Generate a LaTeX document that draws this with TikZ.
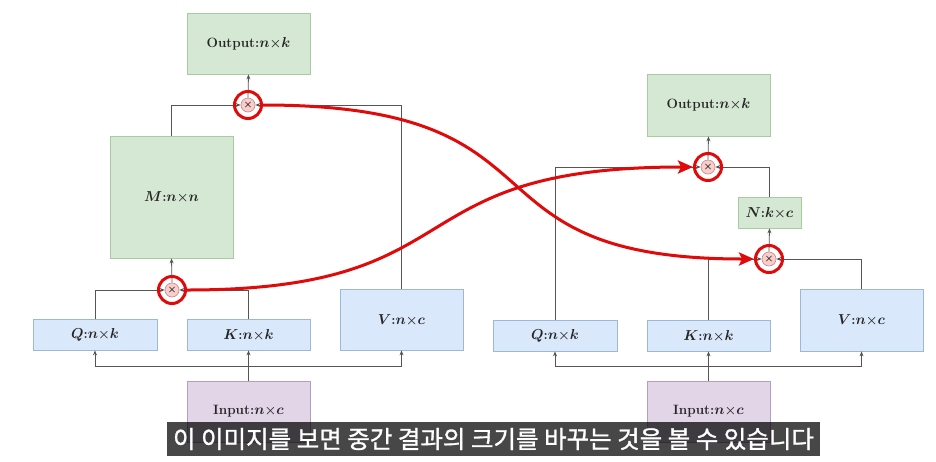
\documentclass[tikz,border=0pt]{standalone}
\usepackage{fontspec}
\usepackage{amsmath}
\usepackage{bm}
\newfontfamily\krfont[FakeBold=1.2]{Noto Sans CJK KR}
\usetikzlibrary{arrows.meta,calc}
\definecolor{gfill}{HTML}{D5E8D4}
\definecolor{gline}{HTML}{A9CBA0}
\definecolor{bfill}{HTML}{DAE8FC}
\definecolor{bline}{HTML}{9DB7DC}
\definecolor{pfill}{HTML}{E1D5E7}
\definecolor{pline}{HTML}{B49EC3}
\definecolor{mfill}{HTML}{F8CECC}
\definecolor{mline}{HTML}{C98683}
\definecolor{wire}{HTML}{555555}
\definecolor{hred}{HTML}{E00A0A}
\tikzset{
  lbl/.style={font=\fontsize{13.5}{15}\selectfont\bfseries,text=black!85},
  gbox/.style={lbl,draw=gline,fill=gfill,line width=0.8pt,inner sep=0pt},
  bbox/.style={lbl,draw=bline,fill=bfill,line width=0.8pt,inner sep=0pt},
  pbox/.style={lbl,draw=pline,fill=pfill,line width=0.8pt,inner sep=0pt},
  mulnode/.style={circle,draw=mline,fill=mfill,line width=0.6pt,minimum size=14pt,inner sep=0pt,font=\fontsize{10}{10}\selectfont\bfseries},
  ringnode/.style={circle,draw=hred,line width=3pt,minimum size=27pt,inner sep=0pt},
  wirearrow/.style={draw=wire,line width=0.8pt,-{Stealth[length=5pt,width=4pt]}},
  wireline/.style={draw=wire,line width=0.8pt},
  redarrow/.style={draw=hred,line width=3pt,-{Stealth[length=15pt,width=13pt,inset=3pt]}},
}
\begin{document}
\begin{tikzpicture}[x=1pt,y=-1pt]
\useasboundingbox (0,0) rectangle (936,461);
\fill[white] (0,0) rectangle (936,461);
% ---------- left diagram ----------
\node[gbox,minimum width=123pt,minimum height=61pt] (out1) at (248.5,43.5) {Output:$\bm{n}$×$\bm{k}$};
\node[gbox,minimum width=123pt,minimum height=122pt] (M) at (171.5,197) {$\bm{M}$:$\bm{n}$×$\bm{n}$};
\node[bbox,minimum width=124pt,minimum height=31pt] (Q1) at (95,334.5) {$\bm{Q}$:$\bm{n}$×$\bm{k}$};
\node[bbox,minimum width=123pt,minimum height=31pt] (K1) at (248.5,334.5) {$\bm{K}$:$\bm{n}$×$\bm{k}$};
\node[bbox,minimum width=123pt,minimum height=61pt] (V1) at (401.5,319.5) {$\bm{V}$:$\bm{n}$×$\bm{c}$};
\node[pbox,minimum width=123pt,minimum height=61pt] (in1) at (248.5,411.5) {Input:$\bm{n}$×$\bm{c}$};
\node[mulnode] (mul1) at (248,105) {×};
\node[mulnode] (mul2) at (172,290) {×};
\draw[wirearrow] (M.north) |- (mul1.west);
\draw[wirearrow] (V1.north) |- (mul1.east);
\draw[wirearrow] (mul1.north) -- (out1.south);
\draw[wirearrow] (Q1.north) |- (mul2.west);
\draw[wirearrow] (K1.north) |- (mul2.east);
\draw[wirearrow] (mul2.north) -- (M.south);
\coordinate (bus1L) at (95,366);
\coordinate (bus1R) at (401.5,366);
\draw[wireline] (bus1L) -- (bus1R);
\draw[wirearrow] (in1.north) -- (K1.south);
\draw[wirearrow] (bus1L) -- (Q1.south);
\draw[wirearrow] (bus1R) -- (V1.south);
% ---------- right diagram ----------
\node[gbox,minimum width=123pt,minimum height=62pt] (out2) at (708.5,105) {Output:$\bm{n}$×$\bm{k}$};
\node[gbox,minimum width=63pt,minimum height=31pt] (N) at (769.5,212.5) {$\bm{N}$:$\bm{k}$×$\bm{c}$};
\node[bbox,minimum width=124pt,minimum height=31pt] (Q2) at (555,335.5) {$\bm{Q}$:$\bm{n}$×$\bm{k}$};
\node[bbox,minimum width=123pt,minimum height=31pt] (K2) at (708.5,335.5) {$\bm{K}$:$\bm{n}$×$\bm{k}$};
\node[bbox,minimum width=123pt,minimum height=62pt] (V2) at (861.5,320) {$\bm{V}$:$\bm{n}$×$\bm{c}$};
\node[pbox,minimum width=123pt,minimum height=61pt] (in2) at (708.5,411.5) {Input:$\bm{n}$×$\bm{c}$};
\node[mulnode] (mul3) at (708,167) {×};
\node[mulnode] (mul4) at (769,259) {×};
\draw[wirearrow] (Q2.north) |- (mul3.west);
\draw[wirearrow] (N.north) |- (mul3.east);
\draw[wirearrow] (mul3.north) -- (out2.south);
\draw[wirearrow] (K2.north) |- (mul4.west);
\draw[wirearrow] (V2.north) |- (mul4.east);
\draw[wirearrow] (mul4.north) -- (N.south);
\coordinate (bus2L) at (555,366);
\coordinate (bus2R) at (861.5,366);
\draw[wireline] (bus2L) -- (bus2R);
\draw[wirearrow] (in2.north) -- (K2.south);
\draw[wirearrow] (bus2L) -- (Q2.south);
\draw[wirearrow] (bus2R) -- (V2.south);
% ---------- red highlights ----------
\node[ringnode] (ring1) at (mul1) {};
\node[ringnode] (ring2) at (mul2) {};
\node[ringnode] (ring3) at (mul3) {};
\node[ringnode] (ring4) at (mul4) {};
\draw[redarrow] (ring1.east) .. controls (580,105) and (450,259) .. (ring4.west);
\draw[redarrow] (ring2.east) .. controls (480,290) and (390,167) .. (ring3.west);
% ---------- subtitle ----------
\node[fill=black,fill opacity=0.72,text opacity=1,text=white,minimum width=653pt,minimum height=34pt,inner sep=0pt,font=\krfont\fontsize{24.5}{26}\selectfont] (sub) at (493.5,439) {이 이미지를 보면 중간 결과의 크기를 바꾸는 것을 볼 수 있습니다};
\end{tikzpicture}
\end{document}
